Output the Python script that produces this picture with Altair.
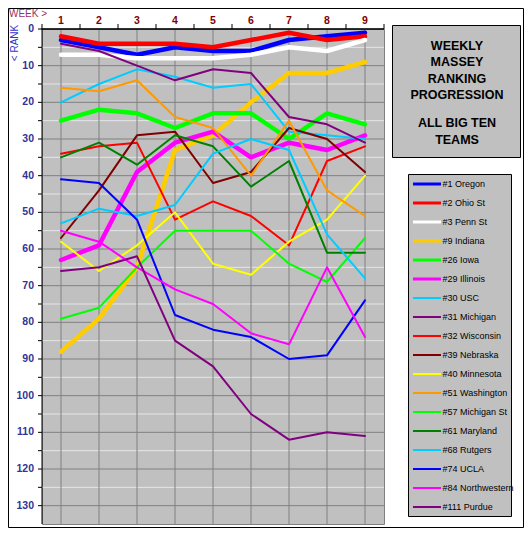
import altair as alt
import pandas as pd

WEEKS = [1, 2, 3, 4, 5, 6, 7, 8, 9]
HALF_WEEKS = [0.5, 1.5, 2.5, 3.5, 4.5, 5.5, 6.5, 7.5, 8.5, 9.5]
RANK_TICKS = [0, 10, 20, 30, 40, 50, 60, 70, 80, 90, 100, 110, 120, 130]
RANK_MINOR = [5, 15, 25, 35, 45, 55, 65, 75, 85, 95, 105, 115, 125]

TEAMS = ["#1 Oregon", "#2 Ohio St", "#3 Penn St", "#9 Indiana", "#26 Iowa",
         "#29 Illinois", "#30 USC", "#31 Michigan", "#32 Wisconsin",
         "#39 Nebraska", "#40 Minnesota", "#51 Washington", "#57 Michigan St",
         "#61 Maryland", "#68 Rutgers", "#74 UCLA", "#84 Northwestern",
         "#111 Purdue"]

OREGON = [3, 5, 7, 5, 6, 6, 3, 2, 1]
OHIO_ST = [2, 4, 4, 4, 5, 3, 1, 3, 2]
PENN_ST = [7, 7, 8, 8, 8, 7, 5, 6, 3]
INDIANA = [88, 79, 65, 33, 29, 20, 12, 12, 9]
IOWA = [25, 22, 23, 27, 23, 23, 30, 23, 26]
ILLINOIS = [63, 59, 39, 31, 28, 35, 31, 33, 29]
USC = [20, 15, 11, 13, 16, 15, 28, 29, 30]
MICHIGAN = [4, 6, 10, 14, 11, 12, 24, 26, 31]
WISCONSIN = [34, 32, 31, 52, 47, 51, 59, 36, 32]
NEBRASKA = [57, 44, 29, 28, 42, 39, 27, 30, 39]
MINNESOTA = [58, 66, 59, 50, 64, 67, 58, 52, 40]
WASHINGTON = [16, 17, 14, 24, 27, 40, 25, 44, 51]
MICHIGAN_ST = [79, 76, 65, 55, 55, 55, 64, 69, 57]
MARYLAND = [35, 31, 37, 29, 32, 43, 36, 61, 61]
RUTGERS = [53, 49, 51, 48, 34, 30, 33, 56, 68]
UCLA = [41, 42, 52, 78, 82, 84, 90, 89, 74]
NORTHWESTERN = [55, 58, 65, 71, 75, 83, 86, 65, 84]
PURDUE = [66, 65, 62, 85, 92, 105, 112, 110, 111]

SERIES = [OREGON, OHIO_ST, PENN_ST, INDIANA, IOWA, ILLINOIS, USC, MICHIGAN,
          WISCONSIN, NEBRASKA, MINNESOTA, WASHINGTON, MICHIGAN_ST, MARYLAND,
          RUTGERS, UCLA, NORTHWESTERN, PURDUE]

COLORS = ["#0000FF", "#FF0000", "#FFFFFF", "#FFCC00", "#00FF00", "#FF00FF",
          "#00CCFF", "#800080", "#FF0000", "#800000", "#FFFF00", "#FF9900",
          "#00FF00", "#008000", "#00CCFF", "#0000FF", "#FF00FF", "#800080"]
LINE_WIDTHS = [4.5] * 6 + [2] * 12
N_THICK = 6

TITLE_BLOCK_1 = ["WEEKLY", "MASSEY", "RANKING", "PROGRESSION"]
TITLE_BLOCK_2 = ["ALL BIG TEN", "TEAMS"]

FONT = "Liberation Sans, Arial, sans-serif"
PLOT_W, PLOT_H = 342, 495

df = pd.DataFrame([{"team": t, "week": w, "rank": r}
                   for t, s in zip(TEAMS, SERIES) for w, r in zip(WEEKS, s)])
one = pd.DataFrame({"k": [0]})
weeks_df = pd.DataFrame({"v": WEEKS})
half_df = pd.DataFrame({"v": HALF_WEEKS})
major_df = pd.DataFrame({"v": RANK_TICKS})
minor_df = pd.DataFrame({"v": RANK_MINOR})

xscale = alt.Scale(domain=[0.5, 9.5], nice=False, zero=False)
yscale = alt.Scale(domain=[0, 135], reverse=True, nice=False, zero=False)
cscale = alt.Scale(domain=TEAMS, range=COLORS)


def X(f):
    return alt.X(f, scale=xscale, axis=None)


def Y(f):
    return alt.Y(f, scale=yscale, axis=None)


# ---- hand-drawn axes and grid ----
minor_grid = alt.Chart(minor_df).mark_rule(color="#E6E6E6", strokeWidth=1).encode(
    y=Y("v:Q"), x=alt.value(0), x2=alt.value(PLOT_W))
major_grid = alt.Chart(major_df).mark_rule(color="#808080", strokeWidth=1).encode(
    y=Y("v:Q"), x=alt.value(0), x2=alt.value(PLOT_W))
week_grid = alt.Chart(weeks_df).mark_rule(color="#808080", strokeWidth=1).encode(
    x=X("v:Q"), y=alt.value(0), y2=alt.value(PLOT_H))
left_major_ticks = alt.Chart(major_df).mark_rule(color="black", strokeWidth=1).encode(
    y=Y("v:Q"), x=alt.value(-4), x2=alt.value(0))
left_minor_ticks = alt.Chart(minor_df).mark_rule(color="black", strokeWidth=1).encode(
    y=Y("v:Q"), x=alt.value(-4), x2=alt.value(0))
top_ticks = alt.Chart(half_df).mark_rule(color="black", strokeWidth=1).encode(
    x=X("v:Q"), y=alt.value(-5), y2=alt.value(0))
left_domain = alt.Chart(one).mark_rule(color="black", strokeWidth=1).encode(
    x=alt.value(0), y=alt.value(0), y2=alt.value(PLOT_H))
top_domain = alt.Chart(one).mark_rule(color="black", strokeWidth=1.5).encode(
    y=alt.value(0), x=alt.value(-0.5), x2=alt.value(PLOT_W))
y_labels = alt.Chart(major_df).mark_text(
    font=FONT, fontSize=10.5, fontWeight="bold", color="#333399",
    align="right", baseline="middle").encode(
    y=Y("v:Q"), x=alt.value(-8), text=alt.Text("v:Q", format="d"))
x_labels = alt.Chart(weeks_df).mark_text(
    font=FONT, fontSize=10.5, fontWeight="bold", color="#800000",
    align="center", baseline="middle").encode(
    x=X("v:Q"), y=alt.value(-8.5), text=alt.Text("v:Q", format="d"))

# ---- data lines ----
lines = alt.Chart(df).mark_line(strokeJoin="round", strokeCap="round").encode(
    x=X("week:Q"),
    y=Y("rank:Q"),
    color=alt.Color("team:N", scale=cscale, legend=None),
    strokeWidth=alt.StrokeWidth("team:N",
                                scale=alt.Scale(type="ordinal", domain=TEAMS, range=LINE_WIDTHS),
                                legend=None),
)

# ---- decorative boxes and texts ----
outer = alt.Chart(one).mark_rect(fillOpacity=0, stroke="black", strokeWidth=1).encode(
    x=alt.value(-33.5), x2=alt.value(PLOT_W + 139.5),
    y=alt.value(-20.5), y2=alt.value(PLOT_H + 3.5))
title_box = alt.Chart(one).mark_rect(fill="#C0C0C0", stroke="black", strokeWidth=1).encode(
    x=alt.value(350.5), x2=alt.value(478.5), y=alt.value(-3.5), y2=alt.value(128.5))
legend_box = alt.Chart(one).mark_rect(fill="#C0C0C0", stroke="black", strokeWidth=1).encode(
    x=alt.value(366.5), x2=alt.value(469.5), y=alt.value(145.5), y2=alt.value(487.5))

title_layers = []
for i, line in enumerate(TITLE_BLOCK_1):
    title_layers.append(alt.Chart(one).mark_text(
        text=line, font=FONT, fontSize=12.5, fontWeight="bold", color="black",
        align="center", baseline="middle").encode(
        x=alt.value(415), y=alt.value(16.5 + 16.5 * i)))
for i, line in enumerate(TITLE_BLOCK_2):
    title_layers.append(alt.Chart(one).mark_text(
        text=line, font=FONT, fontSize=12.5, fontWeight="bold", color="black",
        align="center", baseline="middle").encode(
        x=alt.value(415), y=alt.value(94 + 16.5 * i)))

week_label = alt.Chart(one).mark_text(
    text="WEEK >", font=FONT, fontSize=10, color="#993366",
    align="left", baseline="middle").encode(x=alt.value(-33), y=alt.value(-15))
rank_label = alt.Chart(one).mark_text(
    text="< RANK", font=FONT, fontSize=10, color="#3333CC", angle=270,
    align="center", baseline="middle").encode(x=alt.value(-27), y=alt.value(14))

# ---- hand-drawn legend (rows placed by row index) ----
leg_base = alt.Chart(pd.DataFrame({"team": TEAMS})).transform_window(
    idx="row_number()").transform_calculate(ly="136 + 19 * datum.idx")
legend_thick = leg_base.transform_filter(f"datum.idx <= {N_THICK}").mark_rule(strokeWidth=3).encode(
    y=alt.Y("ly:Q", scale=None), x=alt.value(371), x2=alt.value(399),
    color=alt.Color("team:N", scale=cscale, legend=None))
legend_thin = leg_base.transform_filter(f"datum.idx > {N_THICK}").mark_rule(strokeWidth=2).encode(
    y=alt.Y("ly:Q", scale=None), x=alt.value(371), x2=alt.value(399),
    color=alt.Color("team:N", scale=cscale, legend=None))
legend_text = leg_base.mark_text(
    font=FONT, fontSize=9, color="black", align="left", baseline="middle").encode(
    y=alt.Y("ly:Q", scale=None), x=alt.value(400.5), text="team:N")

chart = alt.layer(
    minor_grid, major_grid, week_grid, lines,
    left_major_ticks, left_minor_ticks, top_ticks, left_domain, top_domain,
    y_labels, x_labels,
    outer, title_box, legend_box, week_label, rank_label, *title_layers,
    legend_thick, legend_thin, legend_text,
).properties(
    width=PLOT_W, height=PLOT_H,
    autosize=alt.AutoSizeParams(type="none"),
    padding={"left": 34, "top": 21, "right": 140, "bottom": 4},
    background="white",
).configure_view(fill="#C0C0C0", stroke="#808080", strokeWidth=1)

chart.save("out.html", embed_options={"renderer": "svg", "actions": False})
